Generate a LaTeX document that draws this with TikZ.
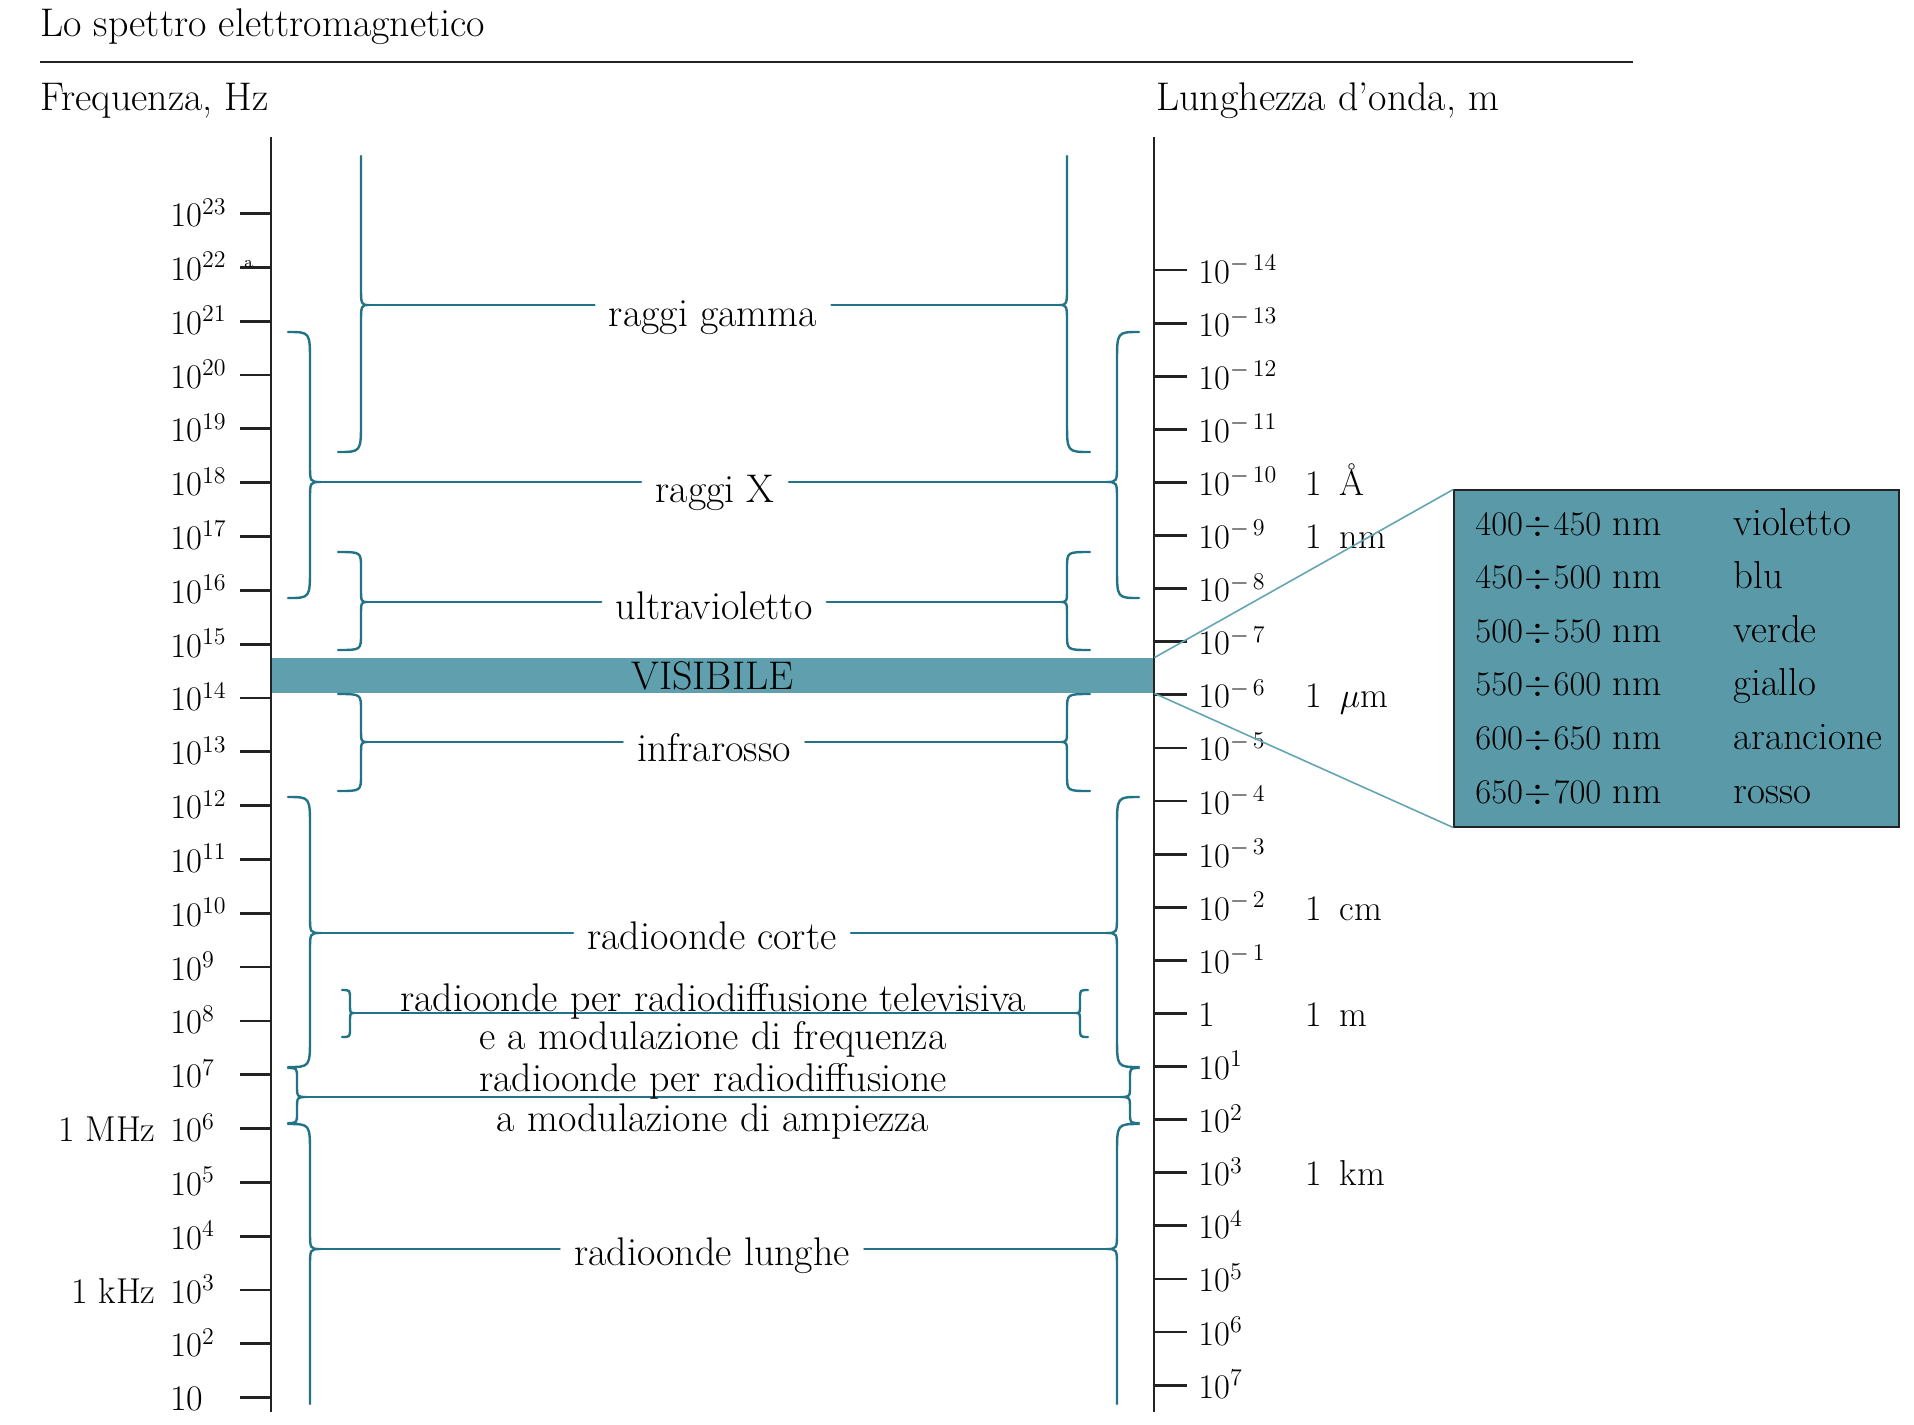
\documentclass[tikz,border=0pt]{standalone}
\usepackage{amsmath}
\usepackage{tikz}
\usetikzlibrary{calc}

\definecolor{bracecol}{RGB}{35,115,135}
\definecolor{bandcol}{RGB}{96,160,174}
\definecolor{boxcol}{RGB}{90,154,168}
\definecolor{linkcol}{RGB}{100,165,178}
\definecolor{inkcol}{RGB}{35,35,35}

\begin{document}
\begin{tikzpicture}[x=0.5pt,y=-0.5pt,font=\fontsize{20}{24}\selectfont,
		axisline/.style={line width=1.4pt,draw=inkcol},
		braceline/.style={line width=1.2pt,draw=bracecol,line cap=round},
		zoomline/.style={line width=0.8pt,draw=linkcol},
		bandlabel/.style={inner xsep=7pt,inner ysep=0pt,anchor=base},
		wordlabel/.style={inner sep=0pt,anchor=base west},
		numlabel/.style={inner sep=0pt,anchor=base west,font=\fontsize{18}{22}\selectfont},
		boxlabel/.style={inner sep=0pt,anchor=base west,font=\fontsize{19.5}{23}\selectfont}]
	\useasboundingbox (0,0) rectangle (1914,1424);

	\node[wordlabel] (title) at (40,36) {Lo spettro elettromagnetico};
	\draw[line width=0.9pt,inkcol] (40,62) -- (1633,62);
	\node[wordlabel] (freq) at (40,110) {Frequenza, Hz};
	\node[wordlabel] (lambda) at (1156,110) {Lunghezza d'onda, m};

	\node[fill=bandcol,minimum width=441.5pt,minimum height=17.5pt,inner sep=0pt] (vis) at (712.5,675.5) {\raisebox{-2pt}{VISIBILE}};

	\draw[axisline] (271,137) -- (271,1412);
	\draw[axisline] (1154,137) -- (1154,1412);

	\foreach \e in {1,...,23}{
		\pgfmathsetmacro\y{213.6+(23-\e)*53.82}
		\draw[axisline] (240,\y) -- (271,\y);
		\ifnum\e=1
			\node[numlabel] (f\e) at (170,{\y+13}) {10};
		\else
			\node[numlabel] (f\e) at (170,{\y+13}) {$10^{\e}$};
		\fi
	}
	\node[numlabel,anchor=base east] (mhz) at ([xshift=-7pt]f6.base west) {1 MHz};
	\node[numlabel,anchor=base east] (khz) at ([xshift=-7pt]f3.base west) {1 kHz};
	\node[numlabel,font=\fontsize{8}{9}\selectfont] (stray) at (244,267) {a};

	\foreach \i in {0,...,21}{
		\pgfmathsetmacro\y{270+\i*53.1}
		\pgfmathtruncatemacro\e{\i-14}
		\pgfmathtruncatemacro\m{14-\i}
		\draw[axisline] (1154,\y) -- (1187,\y);
		\ifnum\e<0
			\node[numlabel] (w\i) at (1198,{\y+13}) {$10^{-\,\m}$};
		\else\ifnum\e=0
			\node[numlabel] (w\i) at (1198,{\y+13}) {1};
		\else
			\node[numlabel] (w\i) at (1198,{\y+13}) {$10^{\e}$};
		\fi\fi
	}
	\node[numlabel] (ang) at ([xshift=53.5pt]w4.base west) {1\enspace Å};
	\node[numlabel] (nano) at ([xshift=53.5pt]w5.base west) {1\enspace nm};
	\node[numlabel] (micro) at ([xshift=53.5pt]w8.base west) {1\enspace $\mu$m};
	\node[numlabel] (centi) at ([xshift=53.5pt]w12.base west) {1\enspace cm};
	\node[numlabel] (metre) at ([xshift=53.5pt]w14.base west) {1\enspace m};
	\node[numlabel] (kilo) at ([xshift=53.5pt]w17.base west) {1\enspace km};

	\foreach \n/\x/\s/\ya/\ym/\yb/\wa/\wb/\tip/\ha/\hk in {
			gamL/361/1/156/305/452/0/23/8/30/20, gamR/1067/-1/156/305/452/0/23/8/30/20,
			uvL/361/1/552/602/650/23/23/7/16/14, uvR/1067/-1/552/602/650/23/23/7/16/14,
			irL/361/1/694/742/791/23/23/7/16/14, irR/1067/-1/694/742/791/23/23/7/16/14,
			xL/310/1/332/482/598/22/22/11/30/18, xR/1117/-1/332/482/598/22/22/11/30/18,
			corL/310/1/797/933/1067/22/22/11/30/18, corR/1117/-1/797/933/1067/22/22/11/30/18,
			lunL/310/1/1124/1249/1404/22/0/11/30/18, lunR/1117/-1/1124/1249/1404/22/0/11/30/18,
			tvL/350/1/990/1013/1037/8/8/4/9/10, tvR/1080/-1/990/1013/1037/8/8/4/9/10,
			amL/297/1/1068/1097/1123/9/9/10/10/12, amR/1130/-1/1068/1097/1123/9/9/10/10/12}{
		\draw[braceline] ({\x-(\s)*\wa},\ya) .. controls (\x,\ya) .. (\x,{\ya+\ha})
			-- (\x,{\ym-\hk}) .. controls (\x,\ym) .. ({\x+(\s)*\tip},\ym) coordinate (\n)
			.. controls (\x,\ym) .. (\x,{\ym+\hk}) -- (\x,{\yb-\ha})
			.. controls (\x,\yb) .. ({\x-(\s)*\wb},\yb);
	}

	\node[bandlabel] (gamma) at (713,326) {raggi gamma};
	\draw[braceline] (gamL) -- (gamL -| gamma.west);
	\draw[braceline] (gamma.east |- gamR) -- (gamR);
	\node[bandlabel] (xray) at (715,502) {raggi X};
	\draw[braceline] (xL) -- (xL -| xray.west);
	\draw[braceline] (xray.east |- xR) -- (xR);
	\node[bandlabel] (uv) at (714,619) {ultravioletto};
	\draw[braceline] (uvL) -- (uvL -| uv.west);
	\draw[braceline] (uv.east |- uvR) -- (uvR);
	\node[bandlabel] (ir) at (714,761) {infrarosso};
	\draw[braceline] (irL) -- (irL -| ir.west);
	\draw[braceline] (ir.east |- irR) -- (irR);
	\node[bandlabel] (corte) at (712,949) {radioonde corte};
	\draw[braceline] (corL) -- (corL -| corte.west);
	\draw[braceline] (corte.east |- corR) -- (corR);
	\node[bandlabel] (lunghe) at (712,1265) {radioonde lunghe};
	\draw[braceline] (lunL) -- (lunL -| lunghe.west);
	\draw[braceline] (lunghe.east |- lunR) -- (lunR);

	\draw[braceline] (tvL) -- (tvR);
	\node[bandlabel] (tvA) at (713,1011) {radioonde per radiodiffusione televisiva};
	\node[bandlabel] (tvB) at (713,1049) {e a modulazione di frequenza};
	\draw[braceline] (amL) -- (amR);
	\node[bandlabel] (amA) at (713,1091) {radioonde per radiodiffusione};
	\node[bandlabel] (amB) at (713,1131) {a modulazione di ampiezza};

	\node[draw=inkcol,line width=0.6pt,fill=boxcol,minimum width=222.5pt,minimum height=168.5pt,inner sep=0pt] (box) at (1676.5,658.5) {};
	\draw[zoomline] (vis.north east) -- (box.north west);
	\draw[zoomline] (vis.south east) -- (box.south west);
	\foreach \i/\lo/\hi/\col in {0/400/450/violetto,1/450/500/blu,2/500/550/verde,3/550/600/giallo,4/600/650/arancione,5/650/700/rosso}{
		\pgfmathsetmacro\y{535+\i*53.6}
		\node[boxlabel,font=\fontsize{19}{22}\selectfont] (nm\i) at (1475,\y) {$\lo\mkern1mu{\div}\mkern1mu\hi$\ nm};
		\node[boxlabel] (col\i) at (1733,\y) {\col};
	}
\end{tikzpicture}
\end{document}
